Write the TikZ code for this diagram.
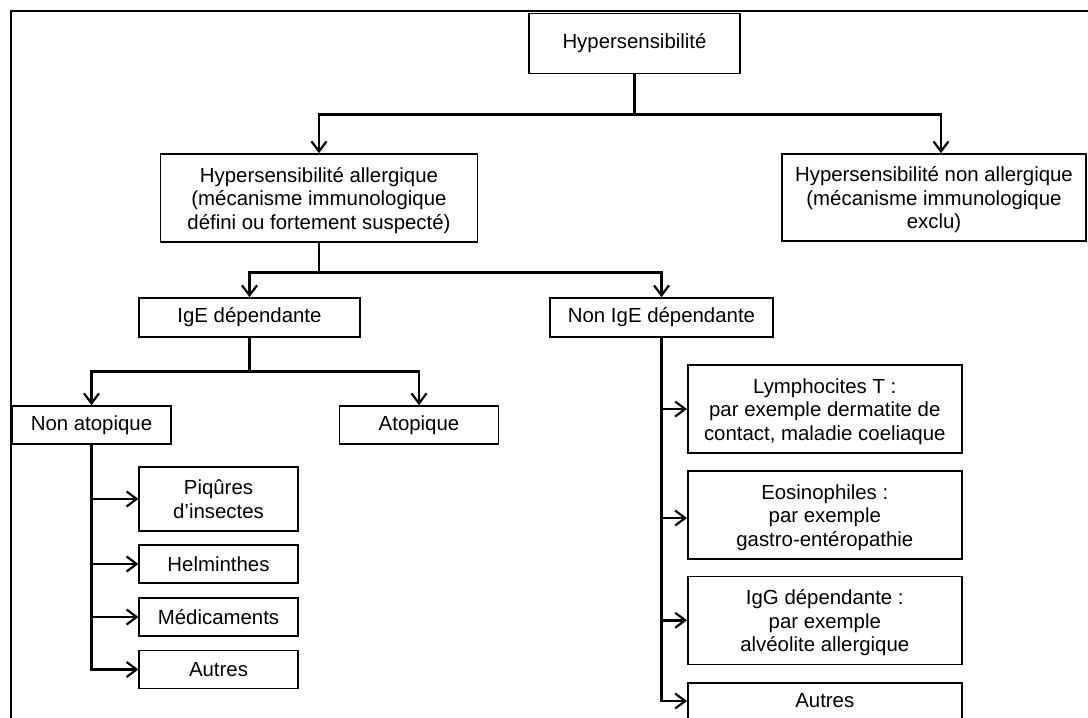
\documentclass[tikz,border=0pt]{standalone}
\usepackage{fontspec}
\setmainfont{Liberation Sans}
\usetikzlibrary{arrows.meta}

\begin{document}
\begin{tikzpicture}[x=1pt,y=-1pt,
  box/.style={draw, line width=1.6pt, align=center, inner sep=0pt,
    font=\fontsize{20.4}{23.5}\selectfont},
  conn/.style={line width=2.8pt},
  tip/.style={-{Straight Barb[length=10pt,width=15pt,line width=2.2pt]}}]

\useasboundingbox (0,0) rectangle (1088,718);

% outer frame (top and left edges)
\draw[line width=2pt] (1088,11) -- (11,11) -- (11,718);

% level 0
\node[box, minimum width=211pt, minimum height=60pt] (top) at (634.5,43.3) {Hypersensibilité};

% level 1
\node[box, minimum width=317pt, minimum height=88pt] (allerg) at (319,198)
  {\rule{0pt}{20pt}Hypersensibilité allergique\\(mécanisme immunologique\\défini ou fortement suspecté)};
\node[box, minimum width=304pt, minimum height=87pt] (nonallerg) at (934,197.5)
  {\rule{0pt}{20pt}Hypersensibilité non allergique\\(mécanisme immunologique\\exclu)};

% level 2
\node[box, minimum width=221pt, minimum height=39pt] (ige) at (249.5,317.5) {IgE dépendante};
\node[box, minimum width=223pt, minimum height=39pt] (nonige) at (661.5,317.5) {Non IgE dépendante};

% level 3
\node[box, minimum width=159pt, minimum height=38pt] (nonatop) at (91.5,425) {Non atopique};
\node[box, minimum width=159pt, minimum height=38pt] (atop) at (419,425) {Atopique};

% non atopic causes
\node[box, minimum width=158.5pt, minimum height=64pt] (piq) at (218.5,499) {Piqûres\\d’insectes};
\node[box, minimum width=158.5pt, minimum height=38pt] (helm) at (218.5,564) {Helminthes};
\node[box, minimum width=158.5pt, minimum height=38pt] (medic) at (218.5,617) {Médicaments};
\node[box, minimum width=158.5pt, minimum height=38pt] (autresA) at (218.5,669.5) {Autres};

% non IgE mechanisms
\node[box, minimum width=274pt, minimum height=88pt] (lympho) at (824.8,409)
  {\rule{0pt}{20pt}Lymphocites T :\\par exemple dermatite de\\contact, maladie coeliaque};
\node[box, minimum width=274pt, minimum height=88pt] (eosino) at (824.8,515)
  {\rule{0pt}{20pt}Eosinophiles :\\par exemple\\gastro-entéropathie};
\node[box, minimum width=274pt, minimum height=88pt] (igg) at (824.8,620.3)
  {\rule{0pt}{20pt}IgG dépendante :\\par exemple\\alvéolite allergique};
\node[box, minimum width=274pt, minimum height=39pt, anchor=north] (autresB) at (824.8,682) {\raisebox{4pt}{Autres}};

% connectors
\draw[conn] (top.south) -- ++(0,40.5) coordinate (j1);
\draw[conn, tip] (j1) -| (allerg.north);
\draw[conn, tip] (j1) -| ([xshift=7pt]nonallerg.north);

\draw[conn] (allerg.south) -- ++(0,29.5) coordinate (j2);
\draw[conn, tip] (j2) -| (ige.north);
\draw[conn, tip] (j2) -| (nonige.north);

\draw[conn] (ige.south) -- ++(0,34) coordinate (j3);
\draw[conn, tip] (j3) -| (nonatop.north);
\draw[conn, tip] (j3) -| (atop.north);

% side branches: trunk with a stub to each box
\draw[conn, tip] (nonatop.south) |- (autresA.west);
\foreach \b in {piq, helm, medic}
  \draw[conn, tip] (nonatop.south |- \b.west) -- ++(1,0) -- (\b.west);

\draw[conn, tip] (nonige.south) |- ([yshift=-19pt]autresB.north west);
\foreach \b in {lympho, igg}
  \draw[conn, tip] (nonige.south |- \b.west) -- ++(1,0) -- (\b.west);
\draw[conn, tip] ([yshift=-3pt]nonige.south |- eosino.west) -- ++(1,0) -- ([yshift=-3pt]eosino.west);
\end{tikzpicture}
\end{document}
